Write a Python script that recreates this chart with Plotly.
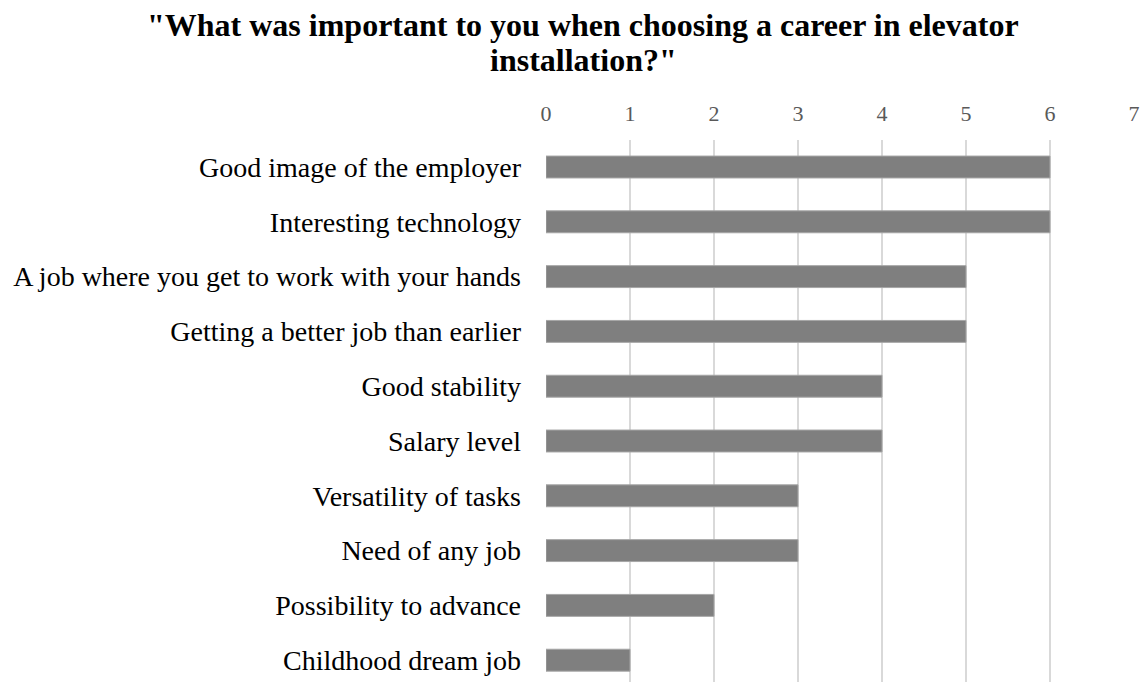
import plotly.graph_objects as go

# Survey answers, listed top to bottom as they appear on the chart
categories = [
    "Good image of the employer",
    "Interesting technology",
    "A job where you get to work with your hands",
    "Getting a better job than earlier",
    "Good stability",
    "Salary level",
    "Versatility of tasks",
    "Need of any job",
    "Possibility to advance",
    "Childhood dream job",
]
counts = [6, 6, 5, 5, 4, 4, 3, 3, 2, 1]
x_ticks = [0, 1, 2, 3, 4, 5, 6, 7]
title_lines = [
    '"What was important to you when choosing a career in elevator',
    'installation?"',
]

SERIF = "Liberation Serif, Times New Roman, serif"
W, H = 1145, 682
M_LEFT, M_RIGHT, M_TOP, M_BOT = 546, 11, 140, 0
plot_w = W - M_LEFT - M_RIGHT
plot_h = H - M_TOP - M_BOT


def paper_x(px):
    """Convert a pixel column (from the left) into paper coordinates."""
    return (px - M_LEFT) / plot_w


def paper_y(px):
    """Convert a pixel row (from the top) into paper coordinates."""
    return (H - M_BOT - px) / plot_h


fig = go.Figure(
    go.Bar(
        x=counts,
        y=list(range(len(categories))),
        orientation="h",
        width=0.4,
        marker=dict(color="#7f7f7f", line=dict(color="#a6a6a6", width=1)),
        hoverinfo="x",
    )
)

# Title is set as two centred lines with tight line spacing
for line, row in zip(title_lines, [25, 60]):
    fig.add_annotation(
        text=line,
        xref="paper",
        yref="paper",
        x=paper_x(583),
        y=paper_y(row),
        xanchor="center",
        yanchor="middle",
        showarrow=False,
        font=dict(family=SERIF, size=32, color="black", weight="bold"),
    )

fig.update_layout(
    width=W,
    height=H,
    paper_bgcolor="white",
    plot_bgcolor="white",
    margin=dict(l=M_LEFT, r=M_RIGHT, t=M_TOP, b=M_BOT),
    showlegend=False,
    xaxis=dict(
        side="top",
        range=[0, 7],
        tickvals=x_ticks,
        ticktext=[str(v) for v in x_ticks],
        showgrid=True,
        gridcolor="#d9d9d9",
        gridwidth=1.5,
        zeroline=False,
        showline=False,
        ticks="",
        ticklabelstandoff=14,
        tickfont=dict(family=SERIF, size=22, color="#595959"),
    ),
    yaxis=dict(
        range=[9.398, -0.493],
        tickvals=list(range(len(categories))),
        ticktext=categories,
        showgrid=False,
        zeroline=False,
        showline=False,
        ticks="",
        ticklabelstandoff=24,
        tickfont=dict(family=SERIF, size=28, color="black"),
    ),
)

fig.write_html("out.html")
